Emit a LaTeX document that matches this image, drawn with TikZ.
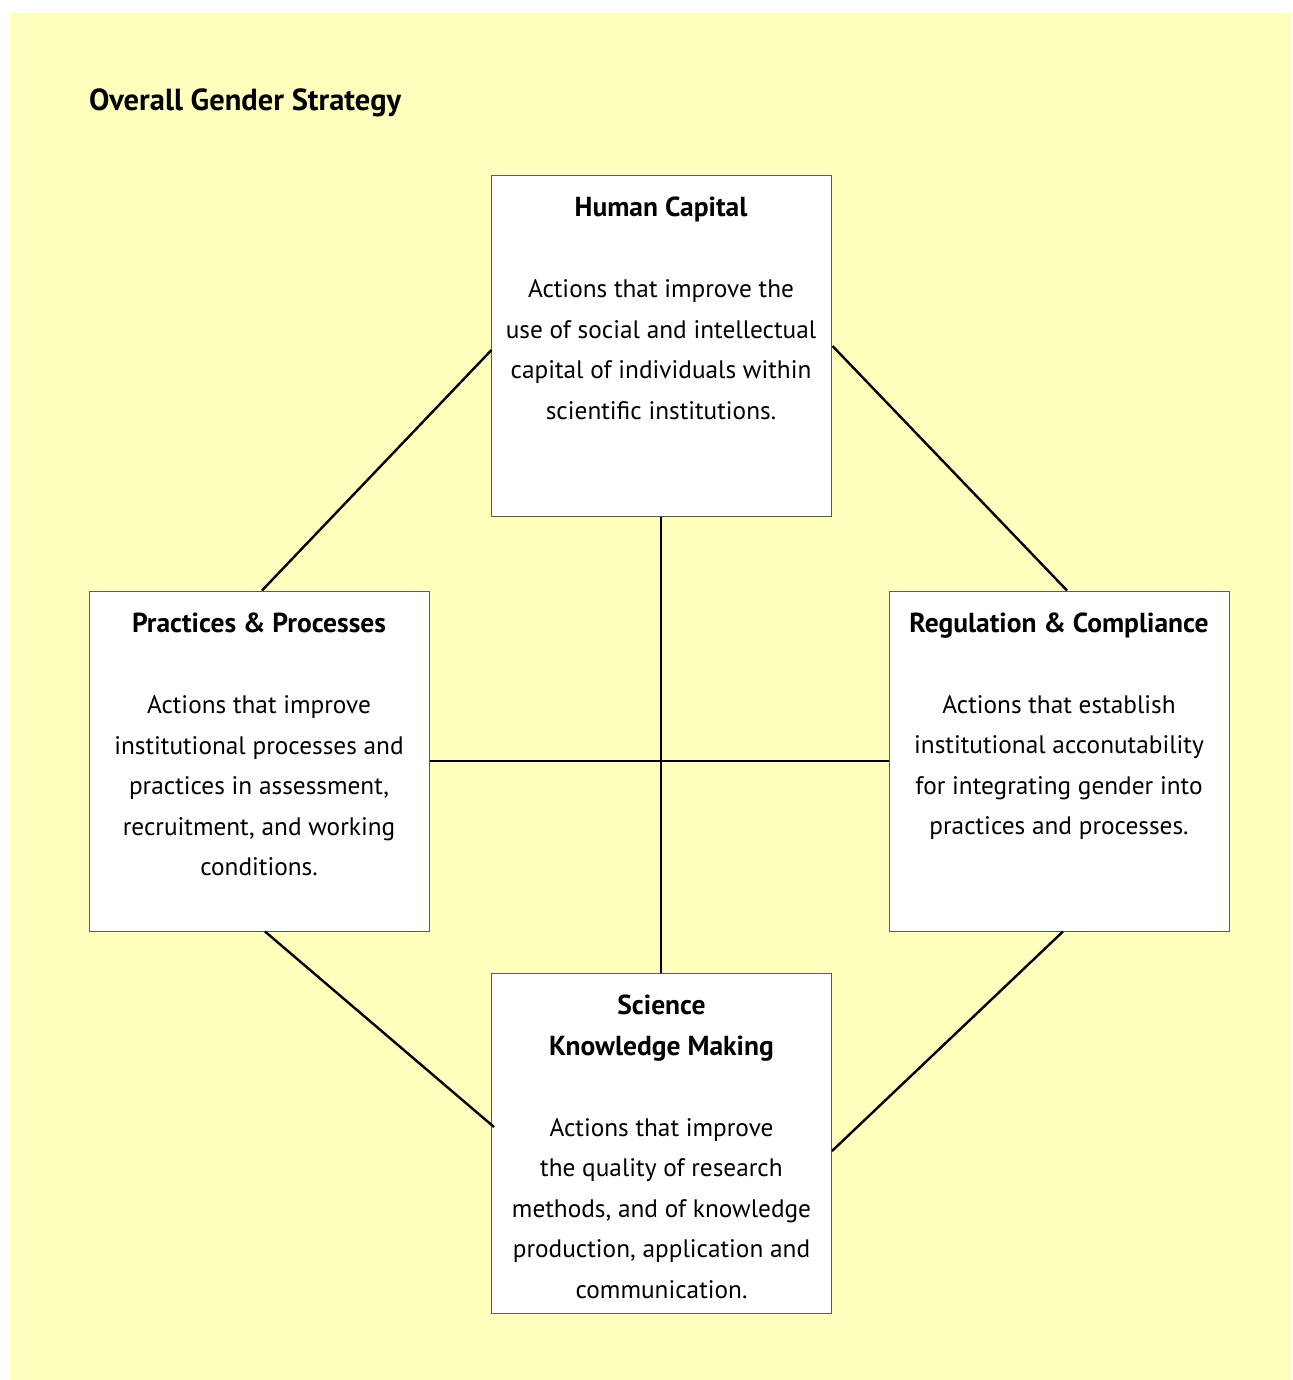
\documentclass[tikz,border=0pt]{standalone}
\usepackage{fontspec}
\setmainfont{PT Sans}
\usetikzlibrary{calc}
\definecolor{bgyellow}{RGB}{255,255,190}
\definecolor{boxgray}{RGB}{90,90,90}
\newcommand{\ptitle}[1]{{\fontsize{27.5}{40.5}\selectfont\bfseries #1}}
\tikzset{
  panel/.style={draw=boxgray, line width=1pt, fill=white, minimum width=340pt, minimum height=340pt, inner sep=0pt},
  paneltext/.style={align=center, inner sep=0pt, font=\fontsize{25.3}{40.5}\selectfont},
  link/.style={line width=2.4pt, black}
}
\begin{document}
\begin{tikzpicture}[x=1pt,y=-1pt]
\useasboundingbox (0,0) rectangle (1292,1380);
\fill[bgyellow] (10,13) rectangle (1292,1380);
\node[anchor=base west, inner sep=0pt, font=\fontsize{30.5}{36}\selectfont\bfseries] (title) at (89,111) {Overall Gender Strategy};

\node[panel] (hc) at (661,346) {};
\node[panel] (pp) at (259,761) {};
\node[panel] (rc) at (1059,761) {};
\node[panel] (sk) at (661.5,1143) {};

\draw[link] ($(hc.west)+(1,4)$) -- ($(pp.north)+(3,0)$);
\draw[link] ($(hc.east)+(1,0)$) -- ($(rc.north)+(8,0)$);
\draw[link] ($(pp.south)+(6,0)$) -- ($(sk.west)+(3,-16)$);
\draw[link] ($(sk.east)+(0,8)$) -- ($(rc.south)+(4,0)$);
\draw[link] (hc.south) -- (hc.south |- sk.north);
\draw[link] (pp.east) -- (rc.west);

\node[paneltext] (hct) at (661,308.5) {\ptitle{Human Capital}\\[40.5pt]Actions that improve the\\use of social and intellectual\\capital of individuals within\\scientific institutions.};
\node[paneltext] (ppt) at (259,744.5) {\ptitle{Practices \& Processes}\\[40.5pt]Actions that improve\\institutional processes and\\practices in assessment,\\recruitment, and working\\conditions.};
\node[paneltext] (rct) at (1059,726) {\ptitle{Regulation \& Compliance}\\[40.5pt]Actions that establish\\institutional acconutability\\for integrating gender into\\practices and processes.};
\node[paneltext] (skt) at (661.5,1147) {\ptitle{Science}\\\ptitle{Knowledge Making}\\[40.5pt]Actions that improve\\the quality of research\\methods, and of knowledge\\production, application and\\communication.};
\end{tikzpicture}
\end{document}
